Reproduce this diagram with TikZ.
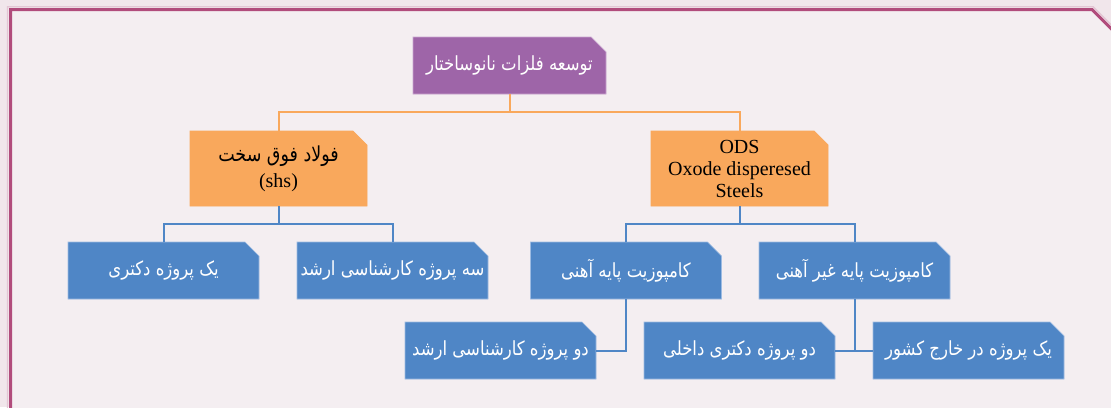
\documentclass[tikz,border=0pt]{standalone}
\usepackage{fontspec}
\usepackage{graphicx}
\setmainfont{Liberation Serif}
\newfontfamily\fa[Script=Arabic]{DejaVu Sans}
\TeXXeTstate=1
\usetikzlibrary{calc}
\newcommand\fatxt[1]{\scalebox{1}[1.18]{\beginR #1\endR}}
\definecolor{framec}{HTML}{B14C7C}
\definecolor{framelt}{HTML}{E3C6D4}
\definecolor{outbg}{HTML}{F1E6EB}
\definecolor{inbg}{HTML}{F4EEF1}
\definecolor{purp}{HTML}{9E65A8}
\definecolor{purpedge}{HTML}{C9A6CF}
\definecolor{orng}{HTML}{F9A85C}
\definecolor{blu}{HTML}{4F86C6}
\definecolor{bluedge}{HTML}{9DBBE2}
\pgfdeclarelayer{back}
\pgfdeclarelayer{bg}
\pgfsetlayers{back,bg,main}
\tikzset{
  basebox/.style={inner sep=0pt, outer sep=0pt, align=center},
  bluebox/.style={basebox, minimum width=191pt, minimum height=57pt, text=white,
    font=\fa\fontsize{16.5}{19}\selectfont},
  topbox/.style={basebox, minimum width=193pt, minimum height=57pt, text=white,
    font=\fa\fontsize{16.5}{19}\selectfont},
  orbox/.style={basebox, minimum width=177pt, minimum height=75pt, text=black,
    font=\fontsize{20}{22}\selectfont},
  oline/.style={draw=orng, line width=2pt},
  bline/.style={draw=blu, line width=2pt},
}
\begin{document}
\begin{tikzpicture}[x=1pt, y=-1pt]
\useasboundingbox (0,0) rectangle (1111,407);
% frame
\begin{pgfonlayer}{back}
  \fill[outbg] (0,0) rectangle (1111,407);
  \fill[inbg] (10.5,430) -- (10.5,9.5) -- (1092,9.5) -- (1135,52.5) -- (1135,430) -- cycle;
  \draw[framelt, line width=1.3pt] (7.5,430) -- (7.5,6.8) -- (1093.2,6.8) -- (1137,50.6);
  \draw[framec, line width=3pt] (10.5,430) -- (10.5,9.5) -- (1092,9.5) -- (1135,52.5);
\end{pgfonlayer}

% nodes
\node[topbox] (top) at (509.5,65.5) {\fatxt{توسعه فلزات نانوساختار}};
\node[orbox] (shs) at (278.5,168.5) {{\fa\fontsize{17.5}{30}\selectfont\fatxt{فولاد فوق سخت}}\\[4pt](shs)};
\node[orbox] (ods) at (739.5,168.5) {ODS\\Oxode disperesed\\Steels};
\node[bluebox] (A) at (163.5,270.5) {\fatxt{یک پروژه دکتری}};
\node[bluebox] (B) at (392.5,270.5) {\fatxt{سه پروژه کارشناسی ارشد}};
\node[bluebox] (C) at (626,270.5) {\fatxt{کامپوزیت پایه آهنی}};
\node[bluebox] (D) at (854.5,270.5) {\fatxt{کامپوزیت پایه غیر آهنی}};
\node[bluebox] (E) at (500.5,350.5) {\fatxt{دو پروژه کارشناسی ارشد}};
\node[bluebox] (F) at (739.5,350.5) {\fatxt{دو پروژه دکتری داخلی}};
\node[bluebox] (G) at (968.5,350.5) {\fatxt{یک پروژه در خارج کشور}};

% chamfered box shapes
\begin{pgfonlayer}{bg}
  \foreach \n/\c/\e/\k in {top/purp/purpedge/15, shs/orng/orng/14, ods/orng/orng/14,
      A/blu/bluedge/14, B/blu/bluedge/14, C/blu/bluedge/14, D/blu/bluedge/14,
      E/blu/bluedge/14, F/blu/bluedge/14, G/blu/bluedge/14}{
    \filldraw[fill=\c, draw=\e, line width=0.7pt]
      (\n.south west) -- (\n.north west) -- ([xshift=-\k pt]\n.north east)
      -- ([yshift=-\k pt]\n.north east) -- (\n.south east) -- cycle;
  }
\end{pgfonlayer}

% connectors
\coordinate (tj) at ($(top.south)+(0,18)$);
\draw[oline] (top.south) -- (tj);
\draw[oline] (shs.north) |- (tj) -| (ods.north);
\coordinate (sj) at ($(shs.south)+(0,18)$);
\draw[bline] (shs.south) -- (sj);
\draw[bline] (A.north) |- (sj) -| (B.north);
\coordinate (oj) at ($(ods.south)+(0,18)$);
\draw[bline] (ods.south) -- (oj);
\draw[bline] (C.north) |- (oj) -| (D.north);
\draw[bline] (C.south) |- (E.east);
\draw[bline] (F.east) -- (G.west);
\coordinate (dj) at (D.south |- F.east);
\draw[bline] (D.south) -- (dj);
\end{tikzpicture}
\end{document}
